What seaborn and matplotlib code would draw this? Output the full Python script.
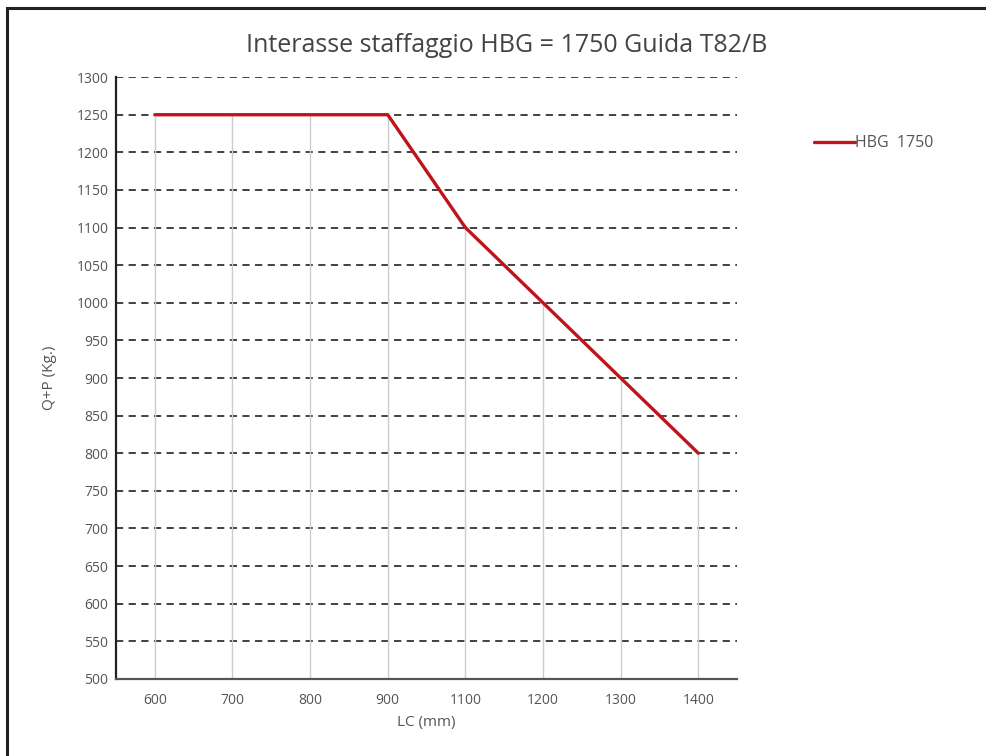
import matplotlib
matplotlib.use("Agg")
import matplotlib.pyplot as plt
import seaborn as sns
import pandas as pd
from matplotlib.patches import Rectangle

# Dati
lc = ["600", "700", "800", "900", "1100", "1200", "1300", "1400"]
qp = [1250, 1250, 1250, 1250, 1100, 1000, 900, 800]
serie = "HBG  1750"
y_ticks = list(range(500, 1301, 50))

df = pd.DataFrame({"LC": lc, "QP": qp, "Serie": serie})

sns.set_style("white")
plt.rcParams["font.family"] = ["Open Sans", "DejaVu Sans"]

fig = plt.figure(figsize=(9.86, 7.56), dpi=100)
ax = fig.add_axes([0.1176, 0.102, 0.63, 0.796])

# cornice esterna
fig.patches.append(Rectangle((0.007, -0.01), 1.02, 1.0, transform=fig.transFigure,
                             fill=False, edgecolor="#222222", linewidth=2.2))

# griglia orizzontale tratteggiata
for y in y_ticks[1:]:
    ax.axhline(y, color="#333333", linestyle=(0, (4, 3)), linewidth=1.3, zorder=1)

sns.lineplot(data=df, x="LC", y="QP", hue="Serie", palette=["#c0141c"],
             linewidth=2.4, sort=False, ax=ax, zorder=3)

# linee verticali sotto la curva
ax.vlines(range(len(lc)), 500, qp, color="#cccccc", linewidth=1, zorder=2)

ax.set_ylim(500, 1300)
ax.set_xlim(-0.5, len(lc) - 0.5)
ax.set_yticks(y_ticks)
ax.tick_params(axis="y", length=5, width=1.2, color="#222222", direction="inout",
               labelsize=10, labelcolor="#555555", pad=3)
ax.tick_params(axis="x", length=0, labelsize=10, labelcolor="#555555", pad=10)

for s in ["top", "right"]:
    ax.spines[s].set_visible(False)
ax.spines["left"].set_color("#222222")
ax.spines["left"].set_linewidth(1.6)
ax.spines["bottom"].set_color("#555555")
ax.spines["bottom"].set_linewidth(1.6)

ax.set_xlabel("LC (mm)", fontsize=11, color="#555555", labelpad=5)
ax.set_ylabel("Q+P (Kg.)", fontsize=11, color="#555555", labelpad=14)
fig.text(0.514, 1 - 52 / 756, "Interasse staffaggio HBG = 1750 Guida T82/B",
         fontsize=18, color="#444444", ha="center", va="baseline")

leg = ax.legend(loc="center left", bbox_to_anchor=(1.1, 0.89), frameon=False,
                fontsize=11.5, handlelength=2.6, handletextpad=0.0, labelcolor="#555555")

fig.savefig("out.png", dpi=100)
